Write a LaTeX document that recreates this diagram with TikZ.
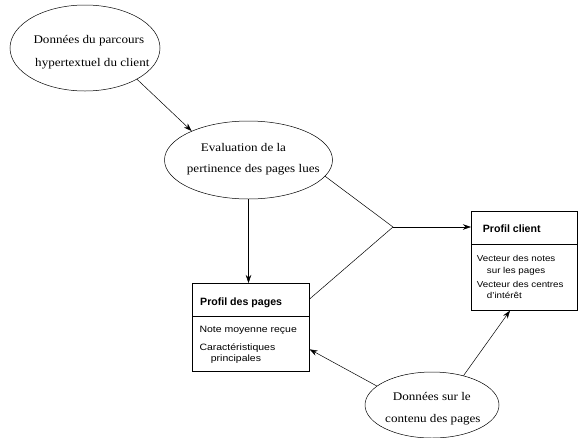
\documentclass[tikz,border=0pt]{standalone}
\usepackage{fontspec}
\setmainfont[FakeStretch=1.12]{Liberation Serif}
\setsansfont[FakeStretch=1.14]{Liberation Sans}
\newfontfamily\titlefont{Liberation Sans}
\usetikzlibrary{shapes.geometric,arrows.meta,calc}
\begin{document}
\begin{tikzpicture}[x=1pt,y=-1pt,
  oval/.style={draw,ellipse,inner sep=0pt,line width=0.5pt},
  stxt/.style={font=\fontsize{11.7}{14}\selectfont,anchor=base west,inner sep=0pt},
  box/.style={draw,line width=0.6pt,inner sep=0pt,anchor=north west},
  conn/.style={line width=0.5pt},
  arr/.style={conn,-{Stealth[length=8pt,width=5.5pt]}},
  title/.style={font=\titlefont\bfseries\fontsize{10.6}{12}\selectfont,anchor=base west,inner sep=0pt},
  bodya/.style={font=\sffamily\fontsize{9.2}{11}\selectfont,anchor=base west,inner sep=0pt},
  bodyb/.style={font=\sffamily\fontsize{8.6}{10}\selectfont,anchor=base west,inner sep=0pt}]
\useasboundingbox (0,0) rectangle (578,437);
% ellipses
\node[oval,minimum width=150pt,minimum height=86pt] (e1) at (85,48) {};
\node[stxt] (e1a) at (33.3,43.3) {Données du parcours};
\node[stxt] (e1b) at (35,66.7) {hypertextuel du client};
\node[oval,minimum width=168pt,minimum height=78pt] (e2) at (248.5,160) {};
\node[stxt] (e2a) at (200.7,151.7) {Evaluation de la};
\node[stxt] (e2b) at (186.7,172.3) {pertinence des pages lues};
\node[oval,minimum width=134pt,minimum height=66pt] (e3) at (432,405) {};
\node[stxt] (e3a) at (392.7,400.7) {Données sur le};
\node[stxt] (e3b) at (385,422.7) {contenu des pages};
% Profil des pages box
\node[box,minimum width=117pt,minimum height=88pt] (p1) at (192,283) {};
\draw[line width=0.6pt] (p1.west |- 0,316) -- (p1.east |- 0,316);
\node[title] (t1) at (200,305) {Profil des pages};
\node[bodya] (b1a) at (199.3,332) {Note moyenne reçue};
\node[bodya] (b1b) at (199.3,350) {Caractéristiques};
\node[bodya] (b1c) at (210.7,361.5) {principales};
% Profil client box
\node[box,minimum width=106pt,minimum height=99pt] (p2) at (471,211) {};
\draw[line width=0.6pt] (p2.west |- 0,244) -- (p2.east |- 0,244);
\node[title] (t2) at (482.7,232.5) {Profil client};
\node[bodyb] (b2a) at (476.7,261) {Vecteur des notes};
\node[bodyb] (b2b) at (486.7,273) {sur les pages};
\node[bodyb] (b2c) at (476.7,287) {Vecteur des centres};
\node[bodyb] (b2d) at (486.7,298) {d'intérêt};
% junction and attach points
\coordinate (j) at (393,227);
\coordinate (p1r) at ($(p1.north east)+(0,16)$);
\coordinate (p1in) at ($(p1.north east)+(0,66.3)$);
\coordinate (p2b) at ($(p2.south west)+(39,0)$);
% connectors
\draw[arr] (e1.-31) -- (e2.153);
\draw[arr] (e2.south) -- (e2.south |- p1.north);
\draw[conn] (e2.-12) -- (j);
\draw[conn] (p1r) -- (j);
\draw[arr] (j) -- (j -| p2.west);
\draw[arr] (e3.161) -- (p1in);
\draw[arr] (e3.43) -- (p2b);
\end{tikzpicture}
\end{document}
